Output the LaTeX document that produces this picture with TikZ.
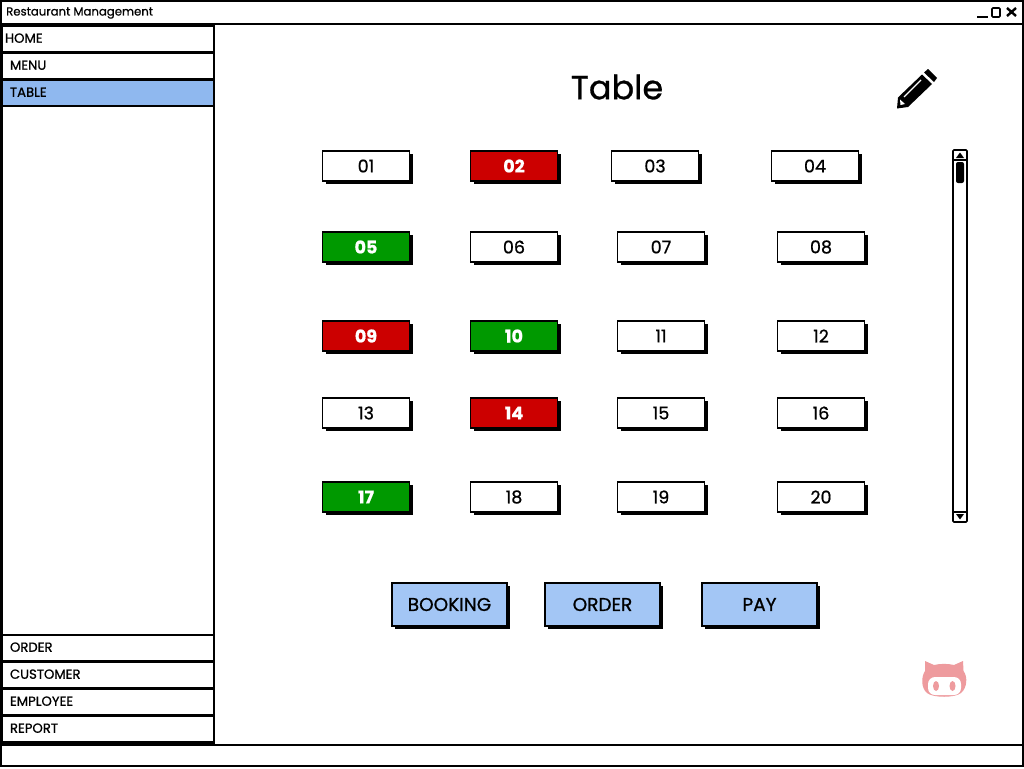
\documentclass[tikz,border=0pt]{standalone}
\usepackage{fontspec}
\setmainfont{Poppins}[FakeBold=0.8]
\usetikzlibrary{shadows}
\definecolor{menublue}{HTML}{8FB8EF}
\definecolor{btnblue}{HTML}{A3C6F5}
\definecolor{busyred}{HTML}{CC0000}
\definecolor{freegreen}{HTML}{009900}
\definecolor{catpink}{HTML}{EE9B9E}
\tikzset{
    frame/.style={draw, line width=2pt, fill=white},
    menuitem/.style={draw, line width=1.6pt, fill=white, minimum width=211pt, minimum height=26pt, inner sep=0pt, text width=196pt, text height=11.5pt, text depth=4pt, align=left, font=\fontsize{13.2}{15}\selectfont},
    tablebox/.style={draw, line width=1.5pt, fill=white, minimum width=87pt, minimum height=30pt, inner sep=0pt, font=\fontsize{17.5}{20}\selectfont, general shadow={fill=black, shadow xshift=3pt, shadow yshift=-3pt}},
    busy/.style={tablebox, fill=busyred, text=white, font=\fontsize{17.5}{20}\selectfont\bfseries},
    free/.style={tablebox, fill=freegreen, text=white, font=\fontsize{17.5}{20}\selectfont\bfseries},
    actionbtn/.style={tablebox, fill=btnblue, minimum width=115pt, minimum height=43pt, font=\fontsize{18.5}{22}\selectfont},
}
\begin{document}
\begin{tikzpicture}[x=1pt, y=-1pt]
    \useasboundingbox (0, 0) rectangle (1024, 768);
    % window
    \draw[frame] (1, 1) rectangle (1023, 766);
    \draw[frame] (1, 1) rectangle (1023, 24);
    \draw[frame] (1, 745) rectangle (1023, 766);
    \draw[frame] (2, 25) rectangle (214, 743);
    \node[anchor=west, inner sep=0pt, font=\fontsize{11.7}{14}\selectfont] (title) at (6, 13) {Restaurant Management};
    \draw[line width=2.5pt] (977, 17) -- (988, 17);
    \draw[line width=1.6pt, rounded corners=1pt] (992, 8) rectangle (1000, 17);
    \draw[line width=2.4pt] (1007, 8) -- (1016, 16) (1016, 8) -- (1007, 16);

    % sidebar
    \node[style=menuitem] (home) at (108, 39) {\hspace{-5pt}HOME};
    \node[style=menuitem] (menu) at (108, 66) {MENU};
    \node[style=menuitem, fill=menublue] (table) at (108, 93) {TABLE};
    \node[style=menuitem] (order) at (108, 648) {ORDER};
    \node[style=menuitem] (customer) at (108, 675) {CUSTOMER};
    \node[style=menuitem] (employee) at (108, 702) {EMPLOYEE};
    \node[style=menuitem] (report) at (108, 729) {REPORT};

    \node[font=\fontsize{33.5}{40}\selectfont] (heading) at (617, 87) {Table};

    % tables
    \node[style=tablebox] (t01) at (366, 166) {01};
    \node[style=busy] (t02) at (514, 166) {02};
    \node[style=tablebox] (t03) at (655, 166) {03};
    \node[style=tablebox] (t04) at (815, 166) {04};
    \node[style=free] (t05) at (366, 247) {05};
    \node[style=tablebox] (t06) at (514, 247) {06};
    \node[style=tablebox] (t07) at (661, 247) {07};
    \node[style=tablebox] (t08) at (821, 247) {08};
    \node[style=busy] (t09) at (366, 336) {09};
    \node[style=free] (t10) at (514, 336) {10};
    \node[style=tablebox] (t11) at (661, 336) {11};
    \node[style=tablebox] (t12) at (821, 336) {12};
    \node[style=tablebox] (t13) at (366, 413) {13};
    \node[style=busy] (t14) at (514, 413) {14};
    \node[style=tablebox] (t15) at (661, 413) {15};
    \node[style=tablebox] (t16) at (821, 413) {16};
    \node[style=free] (t17) at (366, 497) {17};
    \node[style=tablebox] (t18) at (514, 497) {18};
    \node[style=tablebox] (t19) at (661, 497) {19};
    \node[style=tablebox] (t20) at (821, 497) {20};

    % buttons
    \node[style=actionbtn] (booking) at (449.5, 604.5) {BOOKING};
    \node[style=actionbtn] (orderbtn) at (602.5, 604.5) {ORDER};
    \node[style=actionbtn] (pay) at (759.5, 604.5) {PAY};

    % scrollbar
    \draw[line width=1.6pt, rounded corners=1pt] (953, 150) rectangle (967, 522);
    \draw[line width=1.2pt] (953, 160) -- (967, 160) (953, 512) -- (967, 512);
    \fill (960, 152.5) -- (964, 158) -- (956, 158) -- cycle;
    \fill (960, 519.5) -- (964, 514) -- (956, 514) -- cycle;
    \fill[rounded corners=2pt] (956, 162) rectangle (964, 183);

    % pencil
    \fill (928, 69) -- (937, 78) -- (934, 82) -- (924, 72.5) -- cycle;
    \fill (922, 74.5) -- (932, 84) -- (908, 107) -- (897, 108.5) -- (898, 97.5) -- cycle;
    \draw[white, line width=1.2pt] (904, 97) -- (921, 80);
    \fill[white] (900, 99.5) -- (905, 104) -- (900.5, 105) -- cycle;

    % cat
    \fill[catpink] (925, 661) -- (934, 665) .. controls (940, 663.5) and (948, 663.5) .. (954, 665) -- (963, 661) -- (963.5, 671)
        .. controls (968, 677) and (967, 688) .. (961, 693) .. controls (955, 698) and (933, 698) .. (927, 693)
        .. controls (921, 688) and (921, 677) .. (925, 671) -- cycle;
    \fill[white, rounded corners=7pt] (928, 677) rectangle (961, 695);
    \fill[catpink] (936, 686) ellipse [x radius=3, y radius=5];
    \fill[catpink] (952.5, 686) ellipse [x radius=3, y radius=5];
\end{tikzpicture}
\end{document}
